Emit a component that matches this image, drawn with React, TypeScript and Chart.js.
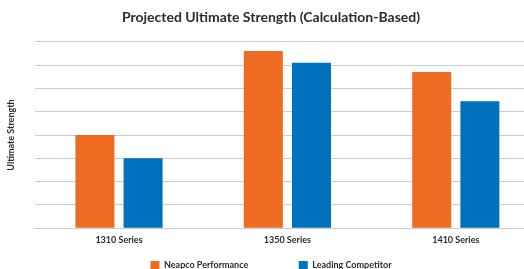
import React, { useEffect, useRef } from "react";
import { Chart, registerables } from "chart.js";

Chart.register(...registerables);

const categories = ["1310 Series", "1350 Series", "1410 Series"];
const neapco = [4.0, 7.6, 6.7];
const competitor = [3.0, 7.1, 5.45];
const seriesNames = ["Neapco Performance", "Leading Competitor"];
const yMin = 0;
const yMax = 8;
const yStep = 1;

export default function App() {
  const ref = useRef<HTMLCanvasElement | null>(null);
  useEffect(() => {
    document.body.style.overflow = "hidden";
    const ctx = ref.current!.getContext("2d")!;
    const chart = new Chart(ctx, {
      type: "bar",
      data: {
        labels: categories,
        datasets: [
          {
            label: seriesNames[0],
            data: neapco,
            backgroundColor: "#EE6B22",
            categoryPercentage: 0.572,
            barPercentage: 0.81,
          },
          {
            label: seriesNames[1],
            data: competitor,
            backgroundColor: "#0071BC",
            categoryPercentage: 0.572,
            barPercentage: 0.81,
          },
        ],
      },
      options: {
        animation: false,
        responsive: true,
        maintainAspectRatio: false,
        layout: { padding: { left: 2, right: 0, top: 0, bottom: 0 } },
        plugins: {
          title: {
            display: true,
            text: "Projected Ultimate Strength (Calculation-Based)",
            color: "#2b2b2b",
            font: { family: "Lato", size: 14, weight: "bold" },
            padding: { top: 9, bottom: 16 },
          },
          legend: {
            position: "bottom",
            labels: {
              boxWidth: 9,
              boxHeight: 9,
              color: "#2b2b2b",
              font: { family: "Lato", size: 9, weight: "bold" },
              padding: 10,
              generateLabels: (c: any) => {
                const items = Chart.defaults.plugins.legend.labels.generateLabels(c);
                return items.map((it: any, i: number) => ({
                  ...it,
                  text: i === 0 ? it.text + "\u2003\u2003\u2003\u2003\u2003\u2003" : it.text,
                }));
              },
            },
          },
          tooltip: { enabled: false },
        },
        scales: {
          x: {
            grid: { display: false, drawTicks: false },
            border: { display: true, color: "#cccccc" },
            ticks: {
              color: "#2b2b2b",
              font: { family: "Lato", size: 9, weight: "bold" },
              padding: 6,
            },
          },
          y: {
            min: yMin,
            max: yMax,
            ticks: { display: false, stepSize: yStep },
            grid: { color: "#cccccc", drawTicks: false },
            border: { display: false },
            title: {
              display: true,
              text: "Ultimate Strength",
              color: "#2b2b2b",
              font: { family: "Lato", size: 9, weight: "bold" },
              padding: { top: 4, bottom: 18 },
            },
          },
        },
      },
    });
    return () => chart.destroy();
  }, []);
  return (
    <div style={{ position: "absolute", left: 0, top: 0, width: 540, height: 280 }}>
      <canvas ref={ref} />
    </div>
  );
}
